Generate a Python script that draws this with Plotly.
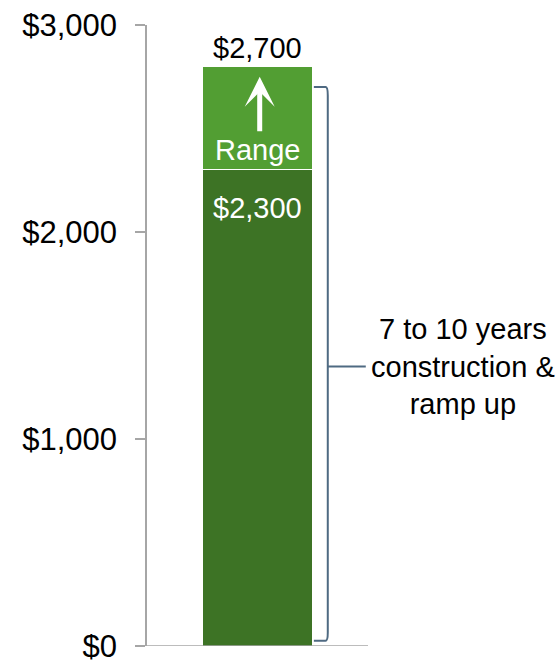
import plotly.graph_objects as go

# Data
category = ["Cost"]
base_value = [2300]          # dark segment
range_value = [500]          # light segment on top (range)
label_base = "$2,300"
label_top = "$2,700"
bracket_top = 2700
tick_vals = [0, 1000, 2000, 3000]
tick_text = ["$0", "$1,000", "$2,000", "$3,000"]
bracket_text = "7 to 10 years<br>construction &<br>ramp up"

DARK = "#3d7325"
LIGHT = "#529e33"
FONT = "Liberation Sans, Arial, sans-serif"

fig = go.Figure()
fig.add_trace(go.Bar(x=[0], y=base_value, width=0.5, marker=dict(color=DARK, line=dict(color="white", width=1)),
                     hoverinfo="skip"))
fig.add_trace(go.Bar(x=[0], y=range_value, width=0.5, marker=dict(color=LIGHT, line=dict(color="white", width=1)),
                     hoverinfo="skip"))

total = base_value[0] + range_value[0]

annotations = [
    dict(x=0, y=total, text=label_top, showarrow=False, yanchor="bottom", yshift=0,
         font=dict(size=29, color="black", family=FONT)),
    dict(x=0, y=base_value[0], text=label_base, showarrow=False, yanchor="top", yshift=-20,
         font=dict(size=29, color="white", family=FONT)),
    dict(x=0, y=base_value[0], text="Range", showarrow=False, yanchor="bottom", yshift=2,
         font=dict(size=29, color="white", family=FONT)),
    dict(x=0.01, y=total - 50, ax=0.01, ay=base_value[0] + 180, xref="x", yref="y", axref="x", ayref="y",
         text="", showarrow=True, arrowhead=3, arrowsize=1.0, arrowwidth=5, arrowcolor="white"),
    dict(x=1.43, y=bracket_top / 2, xref="paper", yref="y", text=bracket_text, showarrow=False,
         xanchor="center", yanchor="middle", font=dict(size=29, color="black", family=FONT)),
]

bc = "#4f6a82"
xb = 0.318
path = (f"M 0.255,{bracket_top} L {xb-0.01},{bracket_top} Q {xb},{bracket_top} {xb},{bracket_top-40} "
        f"L {xb},{25+40} Q {xb},25 {xb-0.01},25 L 0.255,25")
shapes = [
    dict(type="path", path=path, xref="x", yref="y", line=dict(color=bc, width=2)),
    dict(type="line", x0=xb, x1=0.49, y0=bracket_top / 2, y1=bracket_top / 2, xref="x", yref="y",
         line=dict(color=bc, width=2)),
    # x baseline extending left past axis
    dict(type="line", x0=-0.545, x1=0.5, y0=0, y1=0, xref="x", yref="y",
         line=dict(color="#a6a6a6", width=1.5)),
]

fig.update_layout(
    barmode="stack",
    width=558, height=661,
    margin=dict(l=147, r=190, t=25, b=15, autoexpand=False),
    paper_bgcolor="white", plot_bgcolor="white",
    showlegend=False,
    annotations=annotations,
    shapes=shapes,
    font=dict(family=FONT),
    xaxis=dict(range=[-0.5, 0.5], showticklabels=False, showgrid=False, zeroline=False,
               showline=False, ticks="", automargin=False),
    yaxis=dict(range=[0, 3000], tickvals=tick_vals, ticktext=tick_text, showgrid=False, zeroline=False,
               showline=True, linecolor="#a6a6a6", linewidth=1.5, ticks="outside", ticklen=10,
               tickcolor="#a6a6a6", tickwidth=1.5, ticklabelstandoff=12, automargin=False,
               ticklabeloverflow="allow",
               tickfont=dict(size=31, color="black", family=FONT)),
)

fig.write_html("out.html", config={"displayModeBar": False},
               post_script="document.body.style.margin='0';document.body.style.overflow='hidden';")
